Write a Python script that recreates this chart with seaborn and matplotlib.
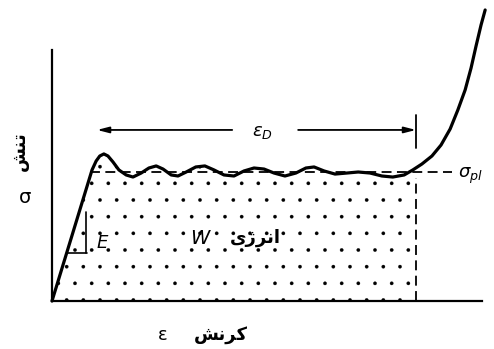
import matplotlib
matplotlib.use('Agg')
import matplotlib.pyplot as plt
import seaborn as sns
import pandas as pd
import numpy as np

# stress-strain curve of a foam (strain, stress / plateau stress)
strain = [0.0, 0.088, 0.097, 0.105, 0.114, 0.123, 0.134, 0.147, 0.163, 0.178,
          0.196, 0.213, 0.229, 0.244, 0.262, 0.277, 0.295, 0.316, 0.336, 0.356,
          0.378, 0.400, 0.422, 0.444, 0.466, 0.488, 0.512, 0.536, 0.558, 0.576,
          0.598, 0.622, 0.648, 0.673, 0.699, 0.725, 0.749, 0.774, 0.793, 0.813,
          0.835, 0.855, 0.875, 0.892, 0.908, 0.921, 0.932, 0.943, 0.952]
stress = [0.0, 1.016, 1.085, 1.124, 1.140, 1.124, 1.078, 1.016, 0.977, 0.961,
          0.992, 1.031, 1.047, 1.023, 0.977, 0.969, 1.000, 1.039, 1.047, 1.016,
          0.977, 0.969, 1.008, 1.031, 1.023, 0.992, 0.969, 0.992, 1.031, 1.039,
          1.008, 0.984, 0.992, 1.000, 0.992, 0.969, 0.961, 0.977, 1.016, 1.062,
          1.124, 1.209, 1.333, 1.481, 1.636, 1.806, 1.977, 2.140, 2.256]
sigma_pl = 1.0
eps_d = 0.8

# labels (Persian, pre-shaped presentation forms in visual order)
lbl_stress = '\uFEB6\uFEE8\uFE97'          # tensh
lbl_strain = '\uFEB6\uFEE7\uFEAE\uFB90'    # koransh
lbl_energy = '\uFBFC\uFB8A\uFEAE\uFEE7\uFE8D'  # energy

df = pd.DataFrame({'strain': strain, 'stress': stress})

sns.set_style('white')
plt.rcParams['font.family'] = ['DejaVu Sans']
plt.rcParams['text.color'] = 'black'
plt.rcParams['hatch.color'] = 'black'
plt.rcParams['hatch.linewidth'] = 0.2

fig = plt.figure(figsize=(4.94, 3.49), dpi=100)
ax = fig.add_axes([0, 0, 1, 1])
k = 0.8 / 364
ax.set_xlim(-52 * k, 442 * k)
ax.set_ylim(-48 / 129, 301 / 129)

# axes lines
for s in ['top', 'right']:
    ax.spines[s].set_visible(False)
ax.spines['left'].set_position(('data', 0))
ax.spines['bottom'].set_position(('data', 0))
ax.spines['left'].set_bounds(0, 1.946)
ax.spines['bottom'].set_bounds(0, 0.945)
for s in ['left', 'bottom']:
    ax.spines[s].set_linewidth(1.6)
    ax.spines[s].set_color('black')
ax.set_xticks([])
ax.set_yticks([])
ax.set_facecolor('white')

# stippled energy area
sub = df[df['strain'] <= eps_d]
ax.fill_between(sub['strain'], 0, sub['stress'], facecolor='none',
                edgecolor='black', hatch='.', linewidth=0)

# plateau line and densification marker
ax.plot([0.084, 0.879], [sigma_pl, sigma_pl], color='black', lw=1.3,
        dashes=(5.5, 3))
ax.plot([eps_d, eps_d], [0, 0.95], color='black', lw=1.3, dashes=(5.5, 3))
ax.plot([eps_d, eps_d], [1.186, 1.442], color='black', lw=1.3)

# curve
sns.lineplot(data=df, x='strain', y='stress', color='black', lw=2.3,
             sort=False, ax=ax)
ax.set_xlabel('')
ax.set_ylabel('')

# eps_D arrows
arr = dict(arrowstyle='-|>,head_length=0.7,head_width=0.18', color='black',
           lw=1.3, shrinkA=0, shrinkB=0)
ax.annotate('', xy=(0.099, 1.326), xytext=(0.396, 1.326), arrowprops=arr)
ax.annotate('', xy=(eps_d, 1.326), xytext=(0.541, 1.326), arrowprops=arr)
ax.text(0.462, 1.31, r'$\varepsilon_D$', fontsize=13, ha='center', va='center')
ax.text(0.892, 0.969, r'$\sigma_{pl}$', fontsize=13, ha='left', va='center')

# modulus triangle
ax.plot([0.075, 0.075], [0.69, 0.372], color='black', lw=1.2)
ax.plot([0.033, 0.077], [0.372, 0.372], color='black', lw=1.2)
ax.text(0.110, 0.45, 'E', fontsize=13, style='italic', ha='center', va='center')

# energy label
ax.text(0.325, 0.488, 'W', fontsize=14, style='italic', ha='center', va='center')
ax.text(0.446, 0.49, lbl_energy, fontsize=13, fontweight='bold',
        ha='center', va='center')

# axis labels
ax.text(-0.059, 0.806, '\u03c3', fontsize=14, ha='center', va='center')
ax.text(-0.070, 1.163, lbl_stress, fontsize=13, fontweight='bold',
        rotation=90, ha='center', va='center')
ax.text(0.244, -0.264, '\u03b5', fontsize=13, ha='center', va='center')
ax.text(0.371, -0.264, lbl_strain, fontsize=13, fontweight='bold',
        ha='center', va='center')

fig.savefig('out.png', dpi=100, facecolor='white')
